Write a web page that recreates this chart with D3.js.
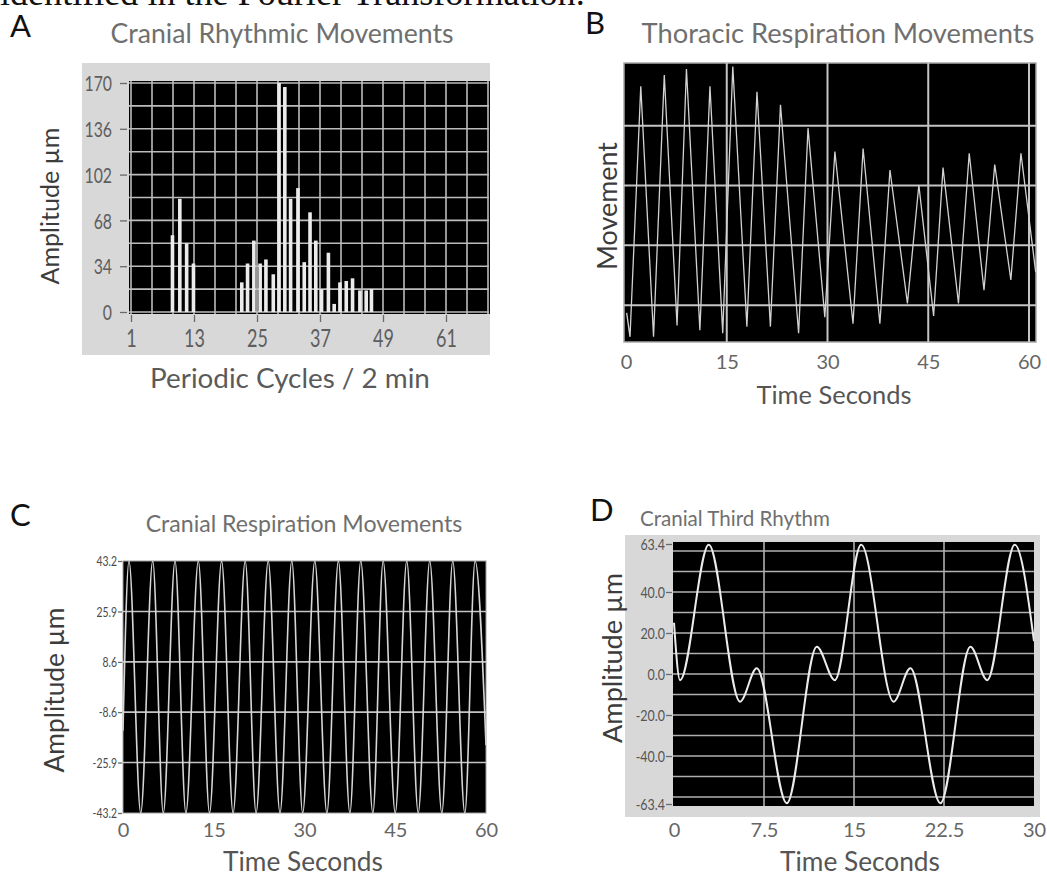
<!DOCTYPE html>
<html>
<head>
<meta charset="utf-8">
<script src="https://cdn.jsdelivr.net/npm/d3@7"></script>
<style>
  body { margin: 0; background: #fff; }
</style>
</head>
<body>
<svg id="fig" width="1047" height="880"></svg>
<script>
// ---- values ----

// A: cranial rhythmic movements, spectrum bars
const cycleX = [8.9, 10.3, 11.6, 12.9, 22.1, 23.2, 24.4, 25.6, 26.7, 28.1, 29.2, 30.3, 31.4,
  32.8, 34.0, 35.1, 36.2, 37.3, 38.6, 39.7, 40.8, 42.0, 43.2, 44.6, 45.8, 46.8];
const cycleAmp = [57, 84, 51, 36, 22, 36, 53, 36, 39, 28, 170, 167, 84,
  92, 37, 74, 53, 17, 44, 6, 22, 23, 25, 16, 16, 17];
const cycleTicksX = [1, 13, 25, 37, 49, 61];
const cycleTicksY = [0, 34, 68, 102, 136, 170];

// B: thoracic respiration, peaks and troughs (seconds, movement)
const thoracicT = [0.1, 0.6, 2.2, 4.1, 5.7, 7.6, 9.0, 11.0, 12.5, 14.4, 15.9, 18.0, 19.5, 21.5,
  23.0, 25.7, 27.1, 29.6, 31.1, 33.8, 35.3, 37.8, 39.3, 41.9, 43.6, 45.8, 47.2, 49.5, 51.1,
  53.3, 54.9, 57.3, 58.8, 61.0];
const thoracicV = [0.87, 0.47, 4.66, 0.47, 4.85, 0.66, 4.95, 0.58, 4.66, 0.53, 4.99, 0.64, 4.57, 0.64,
  4.35, 0.53, 3.96, 0.80, 3.57, 0.69, 3.62, 0.69, 3.26, 1.03, 3.01, 0.82, 3.30, 1.03, 3.54,
  1.25, 3.35, 1.42, 3.54, 1.55];
const timeTicks = [0, 15, 30, 45, 60];

// C: cranial respiration, peaks and troughs (seconds, µm)
const respT = [0, 0.99, 2.93, 4.91, 6.66, 8.6, 10.4, 12.45, 14.3, 16.3, 18.2, 20.2, 22.0, 24.0,
  25.95, 27.9, 29.7, 31.7, 33.7, 35.6, 37.5, 39.3, 41.3, 43.0, 45.0, 46.9, 48.8, 50.7, 52.7,
  54.5, 56.5, 58.2, 60];
const respAmp = [-15, 43.2, -43.2, 43.2, -43.2, 43.2, -43.2, 43.2, -43.2, 43.2, -43.2, 43.2, -43.2, 43.2,
  -43.2, 43.2, -43.2, 43.2, -43.2, 43.2, -43.2, 43.2, -43.2, 43.2, -43.2, 43.2, -43.2, 43.2, -43.2,
  43.2, -43.2, 43.2, -20];
const respTicksY = [-43.2, -25.9, -8.6, 8.6, 25.9, 43.2];

// D: cranial third rhythm, turning points (seconds, µm)
const thirdT = [0, 0.5, 2.9, 5.5, 6.9, 9.4, 11.9, 13.4, 15.6, 18.3, 19.7, 22.2, 24.7, 26.1, 28.4, 30];
const thirdAmp = [25, -3, 63, -13.5, 2.8, -63, 13.3, -3, 63, -13.5, 2.8, -63, 13.3, -3, 63, 16];
const thirdTicksX = [0, 7.5, 15, 22.5, 30];
const thirdTicksY = [-63.4, -40, -20, 0, 20, 40, 63.4];

// ---- drawing ----
const FONT = "Lato, 'Open Sans', sans-serif";
const svg = d3.select("#fig");

function txt(x, y, s, size, color, anchor) {
  return svg.append("text").text(s)
    .attr("x", x).attr("y", y).attr("dy", "0.35em")
    .attr("font-family", FONT).attr("font-size", size)
    .attr("fill", color).attr("text-anchor", anchor || "middle");
}
function vtxt(x, y, s, size, color) {
  return txt(0, 0, s, size, color).attr("transform", `translate(${x},${y}) rotate(-90)`);
}
// scale the font so the label gets the width it has in the figure
function fit(t, w) {
  const len = t.node().getComputedTextLength();
  t.attr("font-size", parseFloat(t.attr("font-size")) * w / len);
  return t;
}
function styleAxis(g, color, size, squeeze, off, left) {
  g.select(".domain").remove();
  g.selectAll(".tick line").attr("stroke", "#6a6a6a").attr("stroke-width", 1.3);
  const t = g.selectAll(".tick text").attr("fill", color).attr("font-size", size)
    .attr("font-family", FONT).attr("transform", `scale(${squeeze},1)`);
  if (left) t.attr("x", off / squeeze).attr("dy", "0.35em");
  else t.attr("y", off).attr("dy", "0.35em");
}
function clip(id, x, y, w, h) {
  svg.append("clipPath").attr("id", id).append("rect")
    .attr("x", x).attr("y", y).attr("width", w).attr("height", h);
}
function hGrid(vals, y, x1, x2, color, sw) {
  svg.append("g").selectAll("line").data(vals).join("line")
    .attr("x1", x1).attr("x2", x2).attr("y1", d => y(d)).attr("y2", d => y(d))
    .attr("stroke", color).attr("stroke-width", sw);
}
function vGrid(vals, x, y1, y2, color, sw) {
  svg.append("g").selectAll("line").data(vals).join("line")
    .attr("y1", y1).attr("y2", y2).attr("x1", d => x(d)).attr("x2", d => x(d))
    .attr("stroke", color).attr("stroke-width", sw);
}

// cut-off sentence at the very top, only the lower part of the glyphs shows
fit(svg.append("text").text("identified in the Fourier Transformation.")
  .attr("x", 0).attr("y", 5).attr("font-family", "'Liberation Serif', 'DejaVu Serif', serif")
  .attr("font-size", 30).attr("fill", "#111"), 585);

// panel letters
[["A", 10, 26], ["B", 585, 23], ["C", 10, 515], ["D", 590, 510]].forEach(p => {
  txt(p[1], p[2], p[0], 31, "#111", "start");
});

// ===== A =====
const xA = d3.scaleLinear([1, 69], [131, 488]);
const yA = d3.scaleLinear([0, 170], [312, 83]);
svg.append("rect").attr("x", 82).attr("y", 63).attr("width", 408).attr("height", 292).attr("fill", "#d8d8d8");
svg.append("rect").attr("x", 129).attr("y", 81).attr("width", 361).attr("height", 233).attr("fill", "#000");
hGrid(d3.range(0, 171, 17), yA, 129, 489, "#bcbcbc", 1.6);
vGrid(d3.range(1, 70, 4), xA, 81, 314, "#bcbcbc", 1.6);
svg.append("g").selectAll("rect").data(cycleX).join("rect")
  .attr("x", d => xA(d) - 1.8).attr("width", 3.6)
  .attr("y", (d, i) => yA(cycleAmp[i]))
  .attr("height", (d, i) => yA(0) - yA(cycleAmp[i]))
  .attr("fill", "#ebebeb");
svg.append("g").attr("transform", "translate(127,0)")
  .call(d3.axisLeft(yA).tickValues(cycleTicksY).tickSize(7))
  .call(g => styleAxis(g, "#5e5e5e", 22, 0.72, -15, true));
svg.append("g").attr("transform", "translate(0,315)")
  .call(d3.axisBottom(xA).tickValues(cycleTicksX).tickSize(7))
  .call(g => styleAxis(g, "#5e5e5e", 25, 0.72, 23, false));
fit(txt(282, 34, "Cranial Rhythmic Movements", 26, "#6f6f6f"), 343);
fit(vtxt(50, 206, "Amplitude µm", 22, "#3c3c3c"), 157);
fit(txt(290, 378, "Periodic Cycles / 2 min", 22, "#5a5a5a"), 280);

// ===== B =====
const xB = d3.scaleLinear([0, 60], [626, 1029]);
const yB = d3.scaleLinear([0.4, 5.05], [341, 63]);
svg.append("rect").attr("x", 624).attr("y", 63).attr("width", 412).attr("height", 279)
  .attr("fill", "#000").attr("stroke", "#a8a8a8").attr("stroke-width", 1.5);
hGrid([1, 2, 3, 4], yB, 624, 1036, "#c4c4c4", 2);
vGrid([15, 30, 45, 60], xB, 63, 342, "#c4c4c4", 2);
clip("clipB", 624, 63, 412, 279);
svg.append("path").attr("clip-path", "url(#clipB)")
  .attr("d", d3.line().x((d, i) => xB(d)).y((d, i) => yB(thoracicV[i]))(thoracicT))
  .attr("fill", "none").attr("stroke", "#d2d2d2").attr("stroke-width", 1.3);
svg.append("g").attr("transform", "translate(0,342)")
  .call(d3.axisBottom(xB).tickValues(timeTicks).tickSize(0))
  .call(g => styleAxis(g, "#666", 20, 1, 20, false));
fit(txt(838, 33, "Thoracic Respiration Movements", 26, "#6f6f6f"), 393);
fit(vtxt(608, 206, "Movement", 22, "#3c3c3c"), 128);
fit(txt(834, 395, "Time Seconds", 22, "#555"), 155);

// ===== C =====
const xC = d3.scaleLinear([0, 60], [123, 486]);
const yC = d3.scaleLinear([-43.2, 43.2], [813, 561]);
svg.append("rect").attr("x", 123).attr("y", 561).attr("width", 363).attr("height", 252)
  .attr("fill", "#000").attr("stroke", "#a0a0a0").attr("stroke-width", 1);
hGrid([-25.9, -8.6, 8.6, 25.9], yC, 123, 486, "#c4c4c4", 1.6);
clip("clipC", 123, 561, 363, 252);
svg.append("path").attr("clip-path", "url(#clipC)")
  .attr("d", d3.line().x(d => xC(d)).y((d, i) => yC(respAmp[i])).curve(d3.curveMonotoneX)(respT))
  .attr("fill", "none").attr("stroke", "#d6d6d6").attr("stroke-width", 1.6);
svg.append("g").attr("transform", "translate(122,0)")
  .call(d3.axisLeft(yC).tickValues(respTicksY).tickSize(4).tickFormat(d => d.toFixed(1)))
  .call(g => styleAxis(g, "#4a4a4a", 13, 0.8, -5, true));
svg.append("g").attr("transform", "translate(0,813)")
  .call(d3.axisBottom(xC).tickValues(timeTicks).tickSize(0))
  .call(g => styleAxis(g, "#666", 20, 1, 17, false));
fit(txt(304, 524, "Cranial Respiration Movements", 26, "#6f6f6f"), 317);
fit(vtxt(55, 690, "Amplitude µm", 22, "#3c3c3c"), 165);
fit(txt(303, 862, "Time Seconds", 22, "#555"), 160);

// ===== D =====
const xD = d3.scaleLinear([0, 30], [674, 1034]);
const yD = d3.scaleLinear([-63.4, 63.4], [804, 544]);
svg.append("rect").attr("x", 625).attr("y", 535).attr("width", 415).attr("height", 282).attr("fill", "#d8d8d8");
svg.append("rect").attr("x", 673).attr("y", 542).attr("width", 361).attr("height", 264).attr("fill", "#000");
hGrid(d3.range(-60, 61, 10), yD, 673, 1034, "#b0b0b0", 1.6);
vGrid([7.5, 15, 22.5], xD, 542, 806, "#b0b0b0", 1.6);
clip("clipD", 673, 542, 361, 264);
svg.append("path").attr("clip-path", "url(#clipD)")
  .attr("d", d3.line().x(d => xD(d)).y((d, i) => yD(thirdAmp[i])).curve(d3.curveMonotoneX)(thirdT))
  .attr("fill", "none").attr("stroke", "#ececec").attr("stroke-width", 2);
svg.append("g").attr("transform", "translate(672,0)")
  .call(d3.axisLeft(yD).tickValues(thirdTicksY).tickSize(6).tickFormat(d => d.toFixed(1)))
  .call(g => styleAxis(g, "#555", 16, 0.78, -7, true));
svg.append("g").attr("transform", "translate(0,817)")
  .call(d3.axisBottom(xD).tickValues(thirdTicksX).tickSize(0).tickFormat(d => String(d)))
  .call(g => styleAxis(g, "#666", 20, 1, 13, false));
fit(txt(640, 519, "Cranial Third Rhythm", 22, "#6f6f6f", "start"), 190);
fit(vtxt(612, 658, "Amplitude µm", 22, "#3c3c3c"), 170);
fit(txt(860, 862, "Time Seconds", 22, "#555"), 160);
</script>
</body>
</html>
